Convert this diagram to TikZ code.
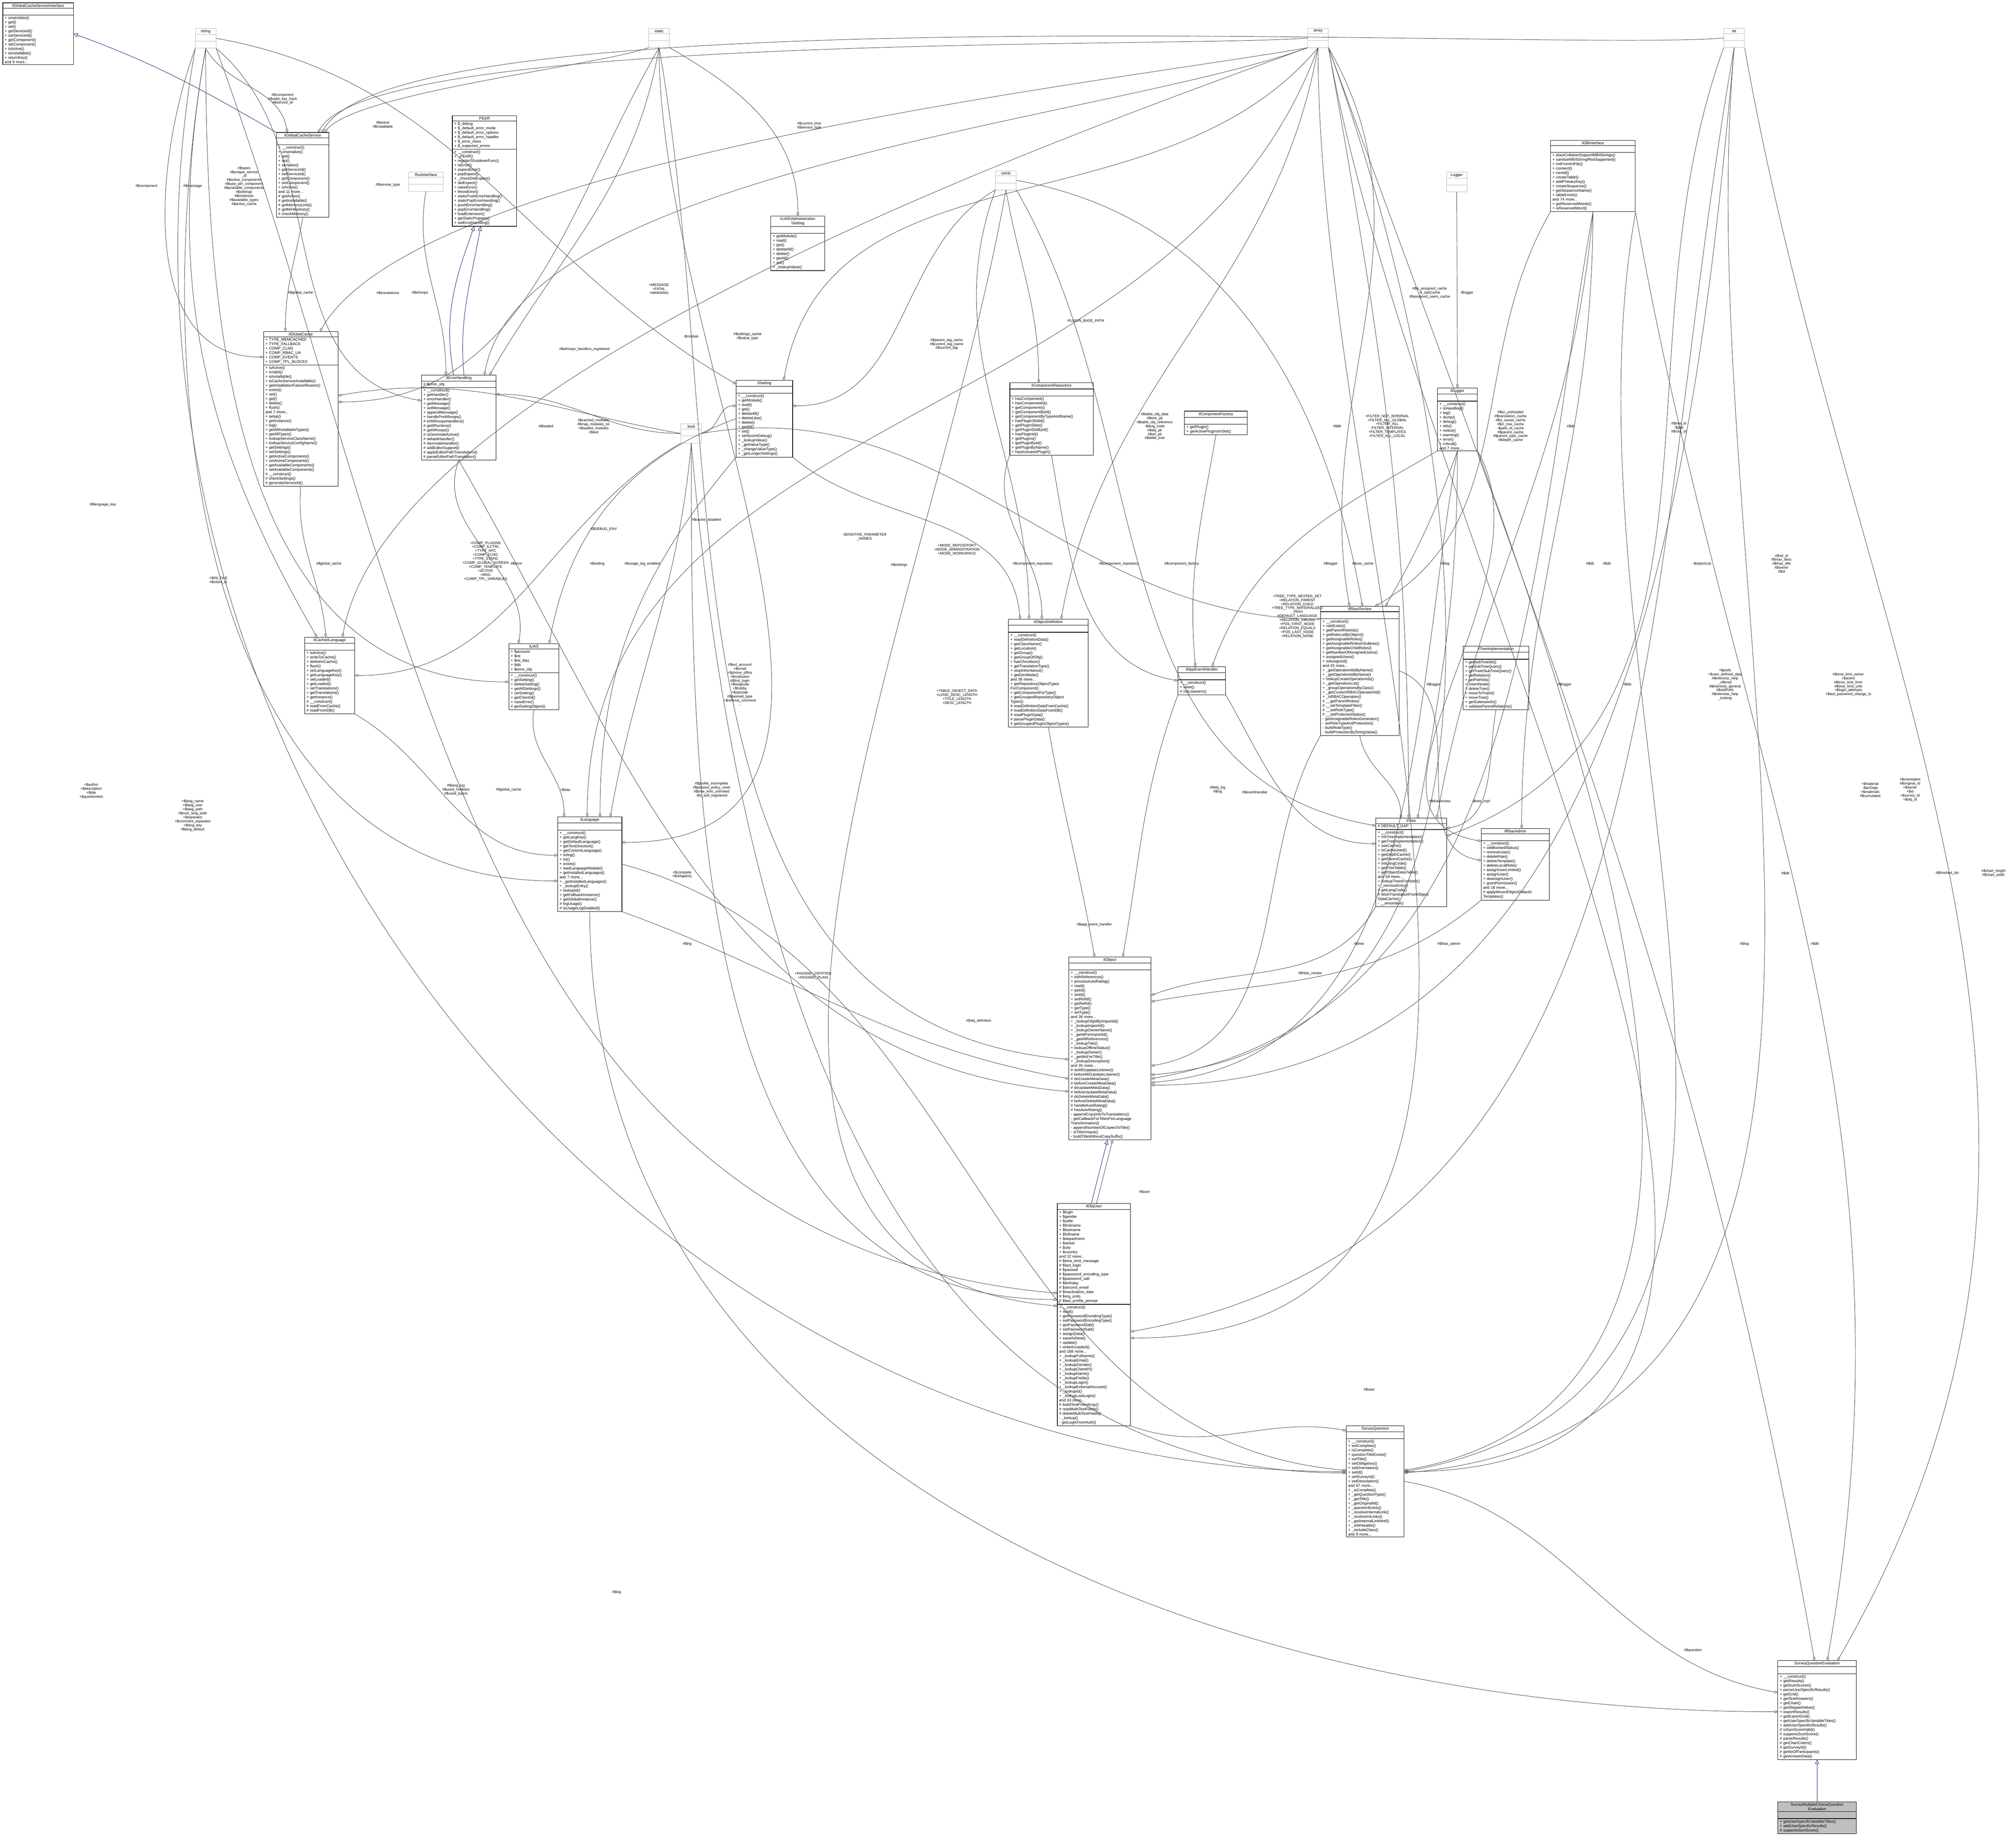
\documentclass[tikz,border=0pt]{standalone}
\usepackage{fontspec}
\setmainfont{Liberation Sans}
\usetikzlibrary{shapes.multipart,arrows.meta}
\newcommand\cf{\fontsize{0.75}{0.8625}\selectfont}
\newcommand\lf{\fontsize{0.7}{0.78}\selectfont}
\newcommand\T[1]{\hfill#1\hfill\null}
\definecolor{edgec}{HTML}{404040}
\definecolor{inhc}{HTML}{191970}
\tikzset{
 cls/.style={draw=black,line width=0.09pt,rectangle split,rectangle split parts=3,anchor=north west,font=\cf,align=left,inner xsep=0.375pt,inner ysep=0.2pt},
 typ/.style={draw=gray!55,line width=0.075pt,rectangle split,rectangle split parts=3,anchor=north west,font=\cf,align=center,inner xsep=0.375pt,inner ysep=0.2pt,text width=3.25pt},
 agg/.style={draw=edgec,line width=0.075pt,-{Diamond[open,length=0.8pt,width=0.5pt,line width=0.075pt]}},
 inh/.style={draw=inhc,line width=0.075pt,-{Triangle[open,length=0.8pt,width=0.8pt,line width=0.075pt]}},
 lbl/.style={font=\lf,align=center,inner sep=0pt}
}
\begin{document}
\begin{tikzpicture}[x=0.25pt,y=-0.25pt]
\useasboundingbox (0,0) rectangle (1568,1439);
% ---------- type boxes
\node[typ] (string) at (152,22) {string\nodepart{second}\strut\nodepart{third}\strut};
\node[typ] (static) at (505,22) {static\nodepart{second}\strut\nodepart{third}\strut};
\node[typ] (array) at (1018,22) {array\nodepart{second}\strut\nodepart{third}\strut};
\node[typ] (int) at (1342,22) {int\nodepart{second}\strut\nodepart{third}\strut};
\node[typ] (const) at (775,133) {const\nodepart{second}\strut\nodepart{third}\strut};
\node[typ] (bool) at (530,330) {bool\nodepart{second}\strut\nodepart{third}\strut};
\node[typ] (Logger) at (1126,134) {Logger\nodepart{second}\strut\nodepart{third}\strut};
\node[typ,text width=6pt] (run) at (318,134) {RunInterface\nodepart{second}\strut\nodepart{third}\strut};
% ---------- classes
\node[cls,text width=13pt] (iface) at (2,2) {\T{ilGlobalCacheServiceInterface}\nodepart{second}\strut\nodepart{third}+ unserialize()\\+ get()\\+ set()\\+ getServiceId()\\+ setServiceId()\\+ getComponent()\\+ setComponent()\\+ isActive()\\+ isInstallable()\\+ returnKey()\\and 9 more...};
\node[cls,text width=9.5pt] (gcs) at (215,103) {\T{ilGlobalCacheService}\nodepart{second}\strut\nodepart{third}+ \_\_construct()\\+ unserialize()\\+ get()\\+ set()\\+ serialize()\\+ getServiceId()\\+ setServiceId()\\+ getComponent()\\+ setComponent()\\+ isActive()\\and 11 more...\\\# getActive()\\\# getInstallable()\\\# getMemoryLimit()\\\# getMinMemory()\\\# checkMemory()};
\node[cls,text width=13.75pt] (gc) at (205,258) {\T{ilGlobalCache}\nodepart{second}+ TYPE\_MEMCACHED\\+ TYPE\_FALLBACK\\+ COMP\_CLNG\\+ COMP\_RBAC\_UA\\+ COMP\_EVENTS\\+ COMP\_TPL\_BLOCKS\nodepart{third}+ isActive()\\+ isValid()\\+ isInstallable()\\+ isCacheServiceInstallable()\\+ getInstallationFailureReason()\\+ exists()\\+ set()\\+ get()\\+ delete()\\+ flush()\\and 7 more...\\+ setup()\\+ getInstance()\\+ log()\\+ getAllInstallableTypes()\\+ getAllTypes()\\+ lookupServiceClassName()\\+ lookupServiceConfigName()\\+ getSettings()\\+ setSettings()\\+ getActiveComponents()\\+ setActiveComponents()\\+ getAvailableComponents()\\+ setAvailableComponents()\\\# \_\_construct()\\\# checkSettings()\\\# generateServiceId()};
\node[cls,text width=9pt] (cl) at (237,496) {\T{ilCachedLanguage}\nodepart{second}\strut\nodepart{third}+ isActive()\\+ writeToCache()\\+ deleteInCache()\\+ flush()\\+ setLanguageKey()\\+ getLanguageKey()\\+ setLoaded()\\+ getLoaded()\\+ setTranslations()\\+ getTranslations()\\+ getInstance()\\\# \_\_construct()\\\# readFromCache()\\\# readFromDB()};
\node[cls,text width=11.75pt] (pear) at (352,90) {\T{PEAR}\nodepart{second}+ \$\_debug\\+ \$\_default\_error\_mode\\+ \$\_default\_error\_options\\+ \$\_default\_error\_handler\\+ \$\_error\_class\\+ \$\_expected\_errors\nodepart{third}+ \_\_construct()\\+ \_PEAR()\\+ registerShutdownFunc()\\+ isError()\\+ expectError()\\+ popExpect()\\+ \_checkDelExpect()\\+ delExpect()\\+ raiseError()\\+ throwError()\\+ staticPushErrorHandling()\\+ staticPopErrorHandling()\\+ pushErrorHandling()\\+ popErrorHandling()\\+ loadExtension()\\+ getStaticProperty()\\+ setErrorHandling()};
\node[cls,text width=13.75pt] (eh) at (328,292) {\T{ilErrorHandling}\nodepart{second}\# \$error\_obj\nodepart{third}+ \_\_construct()\\+ getHandler()\\+ errorHandler()\\+ getMessage()\\+ setMessage()\\+ appendMessage()\\+ handlePreWhoops()\\\# initWhoopsHandlers()\\\# getIlRuntime()\\\# getWhoops()\\\# isDevmodeActive()\\\# defaultHandler()\\\# devmodeHandler()\\\# addEditorSupport()\\\# applyEditorPathTranslations()\\\# parseEditorPathTranslation()};
\node[cls,text width=10.25pt] (setting) at (573,296) {\T{ilSetting}\nodepart{second}\strut\nodepart{third}+ \_\_construct()\\+ getModule()\\+ read()\\+ get()\\+ deleteAll()\\+ deleteLike()\\+ delete()\\+ getAll()\\+ set()\\+ setScormDebug()\\+ \_lookupValue()\\+ \_getValueType()\\+ \_changeValueType()\\+ \_getLongerSettings()};
\node[cls,text width=9.75pt] (adm) at (600,168) {\T{ILIAS\textbackslash Administration}\\\T{\textbackslash Setting}\nodepart{second}\strut\nodepart{third}+ getModule()\\+ read()\\+ get()\\+ deleteAll()\\+ delete()\\+ getAll()\\+ set()\\+ \_lookupValue()};
\node[cls,text width=9pt] (ilias) at (396,501) {\T{ILIAS}\nodepart{second}+ \$account\\+ \$ini\\+ \$ini\_ilias\\+ \$db\\+ \$error\_obj\nodepart{third}+ \_\_construct()\\+ getSetting()\\+ deleteSetting()\\+ getAllSettings()\\+ setSetting()\\+ getClientId()\\+ raiseError()\\\# getSettingObject()};
\node[cls,text width=11.75pt] (lang) at (434,636) {\T{ilLanguage}\nodepart{second}\strut\nodepart{third}+ \_\_construct()\\+ getLangKey()\\+ getDefaultLanguage()\\+ getTextDirection()\\+ getContentLanguage()\\+ txtlng()\\+ txt()\\+ exists()\\+ loadLanguageModule()\\+ getInstalledLanguages()\\and 7 more...\\+ \_getInstalledLanguages()\\+ \_lookupEntry()\\+ lookupId()\\+ getFallbackInstance()\\+ getGlobalInstance()\\\# logUsage()\\\# isUsageLogEnabled()};
\node[cls,text width=15.5pt] (crepo) at (786,298) {\T{ilComponentRepository}\nodepart{second}\strut\nodepart{third}+ hasComponent()\\+ hasComponentId()\\+ getComponents()\\+ getComponentById()\\+ getComponentByTypeAndName()\\+ hasPluginSlotId()\\+ getPluginSlots()\\+ getPluginSlotById()\\+ hasPluginId()\\+ getPlugins()\\+ getPluginById()\\+ getPluginByName()\\+ hasActivatedPlugin()};
\node[cls,text width=11.5pt] (cfac) at (922,320) {\T{ilComponentFactory}\nodepart{second}\strut\nodepart{third}+ getPlugin()\\+ getActivePluginsInSlot()};
\node[cls,text width=14.75pt] (objdef) at (785,482) {\T{ilObjectDefinition}\nodepart{second}\strut\nodepart{third}+ \_\_construct()\\+ readDefinitionData()\\+ getClassName()\\+ getLocation()\\+ getGroup()\\+ getGroupOfObj()\\+ hasCheckbox()\\+ getTranslationType()\\+ stopInheritance()\\+ getDevMode()\\and 38 more...\\+ getRepositoryObjectTypes\\ForComponent()\\+ getComponentForType()\\+ getGroupedRepositoryObject\\Types()\\\# readDefinitionDataFromCache()\\\# readDefinitionDataFromDB()\\\# readPluginData()\\\# parsePluginData()\\\# getGroupedPluginObjectTypes()};
\node[cls,text width=8.5pt] (aeh) at (917,519) {\T{ilAppEventHandler}\nodepart{second}\strut\nodepart{third}+ \_\_construct()\\+ raise()\\\# initListeners()};
\node[cls,text width=15.75pt] (dbi) at (1207,109) {\T{ilDBInterface}\nodepart{second}\strut\nodepart{third}+ doesCollationSupportMB4Strings()\\+ sanitizeMB4StringIfNotSupported()\\+ initFromIniFile()\\+ connect()\\+ nextId()\\+ createTable()\\+ addPrimaryKey()\\+ createSequence()\\+ getSequenceName()\\+ tableExists()\\and 74 more...\\+ getReservedWords()\\+ isReservedWord()};
\node[cls,text width=7pt] (ilog) at (1119,302) {\T{ilLogger}\nodepart{second}\strut\nodepart{third}+ \_\_construct()\\+ isHandling()\\+ log()\\+ dump()\\+ debug()\\+ info()\\+ notice()\\+ warning()\\+ error()\\+ critical()\\and 7 more...};
\node[cls,text width=14.5pt] (rrev) at (1028,472) {\T{ilRbacReview}\nodepart{second}\strut\nodepart{third}+ \_\_construct()\\+ roleExists()\\+ getParentRoleIds()\\+ getRoleListByObject()\\+ getAssignableRoles()\\+ getAssignableRolesInSubtree()\\+ getAssignableChildRoles()\\+ getNumberOfAssignedUsers()\\+ assignedUsers()\\+ isAssigned()\\and 43 more...\\+ \_getOperationIdsByName()\\+ \_getOperationIdByName()\\+ lookupCreateOperationIds()\\+ \_getOperationList()\\+ \_groupOperationsByClass()\\+ \_getCustomRBACOperationId()\\+ \_isRBACOperation()\\\# \_\_getParentRoles()\\\# \_\_setTemplateFilter()\\\# \_\_setRoleType()\\\# \_\_setProtectedStatus()\\- getAssignableRolesGenerator()\\- setRoleTypeAndProtection()\\- buildRoleType()\\- buildProtectionByStringValue()};
\node[cls,text width=12pt] (timpl) at (1139,503) {\T{ilTreeImplementation}\nodepart{second}\strut\nodepart{third}+ getSubTreeIds()\\+ getSubTreeQuery()\\+ getTrashSubTreeQuery()\\+ getRelation()\\+ getPathIds()\\+ insertNode()\\+ deleteTree()\\+ moveToTrash()\\+ moveTree()\\+ getSubtreeInfo()\\+ validateParentRelations()};
\node[cls,text width=13pt] (tree) at (1071,637) {\T{ilTree}\nodepart{second}\# DEFAULT\_GAP\nodepart{third}+ \_\_construct()\\+ initTreeImplementation()\\+ getTreeImplementation()\\+ useCache()\\+ isCacheUsed()\\+ getDepthCache()\\+ getParentCache()\\+ initLangCode()\\+ getTreeTable()\\+ getObjectDataTable()\\and 69 more...\\+ lookupTreesForNode()\\+ \_removeEntry()\\\# getLangCode()\\\# fetchTranslationFromObject\\DataCache()\\- \_\_renumber()};
\node[cls,text width=12.5pt] (radm) at (1153,645) {\T{ilRbacAdmin}\nodepart{second}\strut\nodepart{third}+ \_\_construct()\\+ setBlockedStatus()\\+ removeUser()\\+ deleteRole()\\+ deleteTemplate()\\+ deleteLocalRole()\\+ assignUserLimited()\\+ assignUser()\\+ deassignUser()\\+ grantPermission()\\and 18 more...\\\# applyMovedObjectDidactic\\Templates()};
\node[cls,text width=15.25pt] (obj) at (832,745) {\T{ilObject}\nodepart{second}\strut\nodepart{third}+ \_\_construct()\\+ withReferences()\\+ processAutoRating()\\+ read()\\+ getId()\\+ setId()\\+ setRefId()\\+ getRefId()\\+ getType()\\+ setType()\\and 39 more...\\+ \_lookupObjIdByImportId()\\+ \_lookupImportId()\\+ \_lookupOwnerName()\\+ \_getIdForImportId()\\+ \_getAllReferences()\\+ \_lookupTitle()\\+ lookupOfflineStatus()\\+ \_lookupOwner()\\+ \_getIdsForTitle()\\+ \_lookupDescription()\\and 26 more...\\\# doMDUpdateListener()\\\# beforeMDUpdateListener()\\\# doCreateMetaData()\\\# beforeCreateMetaData()\\\# doUpdateMetaData()\\\# beforeUpdateMetaData()\\\# doDeleteMetaData()\\\# beforeDeleteMetaData()\\\# handleAutoRating()\\\# hasAutoRating()\\- appendCopyInfoToTranslations()\\- getCallbackForTitlesPerLanguage\\Transformation()\\- appendNumberOfCopiesToTitle()\\- isTitleUnique()\\- buildTitleWithoutCopySuffix()};
\node[cls,text width=13.5pt] (user) at (823,937) {\T{ilObjUser}\nodepart{second}+ \$login\\+ \$gender\\+ \$utitle\\+ \$firstname\\+ \$lastname\\+ \$fullname\\+ \$department\\+ \$street\\+ \$city\\+ \$country\\and 12 more...\\\# \$time\_limit\_message\\\# \$last\_login\\\# \$passwd\\\# \$password\_encoding\_type\\\# \$password\_salt\\\# \$birthday\\\# \$second\_email\\\# \$inactivation\_date\\\# \$org\_units\\\# \$last\_profile\_prompt\nodepart{third}+ \_\_construct()\\+ read()\\+ getPasswordEncodingType()\\+ setPasswordEncodingType()\\+ getPasswordSalt()\\+ setPasswordSalt()\\+ assignData()\\+ saveAsNew()\\+ update()\\+ writeAccepted()\\and 168 more...\\+ \_lookupFullname()\\+ \_lookupEmail()\\+ \_lookupGender()\\+ \_lookupClientIP()\\+ \_lookupName()\\+ \_lookupFields()\\+ \_lookupLogin()\\+ \_lookupExternalAccount()\\+ \_lookupId()\\+ \_lookupLastLogin()\\and 63 more...\\\# buildTextFromArray()\\\# readMultiTextFields()\\\# deleteMultiTextFields()\\- \_lookup()\\- getLoginFromAuth()};
\node[cls,text width=10.5pt] (sq) at (1048,1110) {\T{SurveyQuestion}\nodepart{second}\strut\nodepart{third}+ \_\_construct()\\+ setComplete()\\+ isComplete()\\+ questionTitleExists()\\+ setTitle()\\+ setObligatory()\\+ setOrientation()\\+ setId()\\+ setSurveyId()\\+ setDescription()\\and 67 more...\\+ \_isComplete()\\+ \_getQuestionType()\\+ \_getTitle()\\+ \_getOriginalId()\\+ \_questionExists()\\+ \_resolveInternalLink()\\+ \_resolveIntLinks()\\+ \_getInternalLinkHref()\\+ \_isWriteable()\\+ \_includeClass()\\and 8 more...};
\node[cls,text width=14.5pt] (sqe) at (1384,1293) {\T{SurveyQuestionEvaluation}\nodepart{second}\strut\nodepart{third}+ \_\_construct()\\+ getResults()\\+ getSumScores()\\+ parseUserSpecificResults()\\+ getGrid()\\+ getTextAnswers()\\+ getChart()\\+ getSkippedValue()\\+ exportResults()\\+ getExportGrid()\\+ getUserSpecificVariableTitles()\\+ addUserSpecificResults()\\\# isSumScoreValid()\\\# supportsSumScore()\\\# parseResults()\\\# getChartColors()\\\# getSurveyId()\\\# getNrOfParticipants()\\\# getAnswerData()};
\node[cls,text width=14.5pt,fill=gray!50] (smc) at (1384,1403) {\T{SurveyMultipleChoiceQuestion}\\\T{Evaluation}\nodepart{second}\strut\nodepart{third}+ getUserSpecificVariableTitles()\\+ addUserSpecificResults()\\\# supportsSumScore()};
% ---------- inheritance
\draw[inh] (gcs.north west) to[out=150,in=-20] (iface.east);
\draw[inh] ([xshift=-1pt]eh.north) to[out=100,in=-110] ([xshift=-2pt]pear.south);
\draw[inh] ([xshift=1pt]eh.north) to[out=95,in=-100] ([xshift=-0.75pt]pear.south);
\draw[inh] ([xshift=-0.5pt]user.north) -- ([xshift=-0.5pt]obj.south);
\draw[inh] (smc.north) -- (sqe.south);
% ---------- aggregations
\draw[agg] (string.south) to[out=-60,in=100] ([xshift=-3pt]gcs.north);
\draw[agg,looseness=0.3] (array.west) to[out=-175,in=60] ([xshift=3pt]gcs.north);
\draw[agg,looseness=0.3] (int.west) to[out=-175,in=60] ([xshift=3.75pt]gcs.north);
\draw[agg,looseness=0.4] (static.south west) to[out=-160,in=50] ([xshift=4.25pt]gcs.north);
\draw[agg] (gcs.south) to[out=-100,in=90] ([xshift=-3pt]gc.north);
\draw[agg] (string.south west) to[out=-110,in=180] ([yshift=-5pt]gc.north west);
\draw[agg,looseness=0.5] (array.south west) to[out=-170,in=60] ([xshift=3.75pt]gc.north);
\draw[agg] (bool.west) to[out=170,in=10] ([yshift=-12.5pt]gc.north east);
\draw[agg] (static.south) to[out=-120,in=0] ([yshift=-13.75pt]gc.north east);
\draw[agg] (gc.south) to[out=-95,in=95] ([xshift=-0.75pt]cl.north);
\draw[agg] (string.south) to[out=-100,in=120] ([xshift=-2.5pt]cl.north);
\draw[agg,looseness=0.6] (array.south west) to[out=-160,in=80] ([xshift=2.5pt]cl.north);
\draw[agg] (bool.south west) to[out=-150,in=0] ([yshift=-7.5pt]cl.north east);
\draw[agg] (run.south) to[out=-100,in=90] ([xshift=-2.5pt]eh.north);
\draw[agg] (string.south east) to[out=-40,in=170] ([yshift=-5pt]eh.north west);
\draw[agg,looseness=0.6] (array.south west) to[out=-160,in=80] ([xshift=5pt]eh.north);
\draw[agg] (static.south) to[out=-100,in=60] ([xshift=6pt]eh.north);
\draw[agg] (bool.west) to[out=180,in=0] ([yshift=-3.75pt]eh.north east);
\draw[agg] (string.east) to[out=-10,in=150] ([yshift=-0.75pt]setting.north west);
\draw[agg] (array.south) to[out=-130,in=80] ([xshift=3.75pt]setting.north);
\draw[agg] (bool.east) to[out=10,in=180] ([yshift=-5pt]setting.north west);
\draw[agg] (const.south west) to[out=-150,in=0] ([yshift=-5pt]setting.north east);
\draw[agg] (static.south east) to[out=-30,in=90] (adm.north);
\draw[agg] (eh.south) to[out=-110,in=80] ([xshift=-3pt]ilias.north);
\draw[agg] (setting.west) to[out=200,in=80] ([xshift=3pt]ilias.north);
\draw[agg] (string.south) to[out=-90,in=180] ([yshift=-7.5pt]ilias.north west);
\draw[agg] (ilias.south) to[out=-100,in=90] ([xshift=-5pt]lang.north);
\draw[agg] (cl.south east) to[out=-30,in=180] ([yshift=-7.5pt]lang.north west);
\draw[agg] (setting.south west) to[out=-130,in=90] ([xshift=2pt]lang.north);
\draw[agg] (array.south) to[out=-110,in=90] ([xshift=-0.5pt]lang.north);
\draw[agg] (bool.south) to[out=-95,in=80] ([xshift=4pt]lang.north);
\draw[agg] (string.south) to[out=-100,in=180] ([yshift=-12.5pt]lang.north west);
\draw[agg] (static.south) to[out=-90,in=0] ([yshift=-5pt]lang.north east);
\draw[agg] (const.south) to[out=-80,in=90] ([xshift=-2.5pt]crepo.north);
\draw[agg] (crepo.south west) to[out=-110,in=90] ([xshift=-1.25pt]objdef.north);
\draw[agg] (const.south west) to[out=-110,in=90] ([xshift=-3.75pt]objdef.north);
\draw[agg] (array.south) to[out=-100,in=80] ([xshift=2.5pt]objdef.north);
\draw[agg] (setting.south east) to[out=-40,in=95] ([xshift=-5.5pt]objdef.north);
\draw[agg] (crepo.south) to[out=-80,in=170] (aeh.west);
\draw[agg] (cfac.south) to[out=-100,in=95] ([xshift=-1.25pt]aeh.north);
\draw[agg] (ilog.south west) to[out=-150,in=70] ([xshift=2pt]aeh.north);
\draw[agg] (Logger.south) -- (ilog.north);
\draw[agg] (dbi.south west) to[out=-120,in=30] ([xshift=3pt]rrev.north);
\draw[agg] (ilog.south) to[out=-110,in=60] ([xshift=5pt]rrev.north);
\draw[agg] (const.east) to[out=-10,in=100] ([xshift=0.5pt]rrev.north);
\draw[agg] (array.south east) to[out=-60,in=100] ([xshift=-2pt]rrev.north);
\draw[agg] (bool.east) to[out=10,in=180] ([yshift=-2.5pt]rrev.north west);
\draw[agg] (dbi.south) to[out=-95,in=80] ([xshift=5pt]tree.north);
\draw[agg] (ilog.south) to[out=-90,in=80] ([xshift=1.25pt]tree.north);
\draw[agg] (timpl.south) to[out=-100,in=10] ([yshift=-2pt]tree.north east);
\draw[agg] (rrev.south) to[out=-80,in=90] ([xshift=-2pt]tree.north);
\draw[agg] (const.south east) to[out=-60,in=170] ([yshift=-1.5pt]tree.north west);
\draw[agg] (array.south east) to[out=-80,in=90] ([xshift=-0.5pt]tree.north);
\draw[agg] (aeh.south east) to[out=-60,in=180] ([yshift=-5pt]tree.north west);
\draw[agg] (int.south west) to[out=-110,in=20] ([yshift=-3.5pt]tree.north east);
\draw[agg] (dbi.south) to[out=-90,in=90] ([xshift=1.25pt]radm.north);
\draw[agg] (ilog.south east) to[out=-60,in=170] ([yshift=-2.5pt]radm.north west);
\draw[agg] (rrev.east) to[out=-20,in=170] ([yshift=-6.25pt]radm.north west);
\draw[agg] (tree.south west) to[out=-120,in=20] ([yshift=-7.5pt]obj.north east);
\draw[agg] (radm.south west) to[out=-140,in=10] ([yshift=-8.75pt]obj.north east);
\draw[agg] (rrev.south west) to[out=-120,in=10] ([yshift=-21.25pt]obj.north east);
\draw[agg] (objdef.south) to[out=-80,in=100] ([xshift=-3pt]obj.north);
\draw[agg] (aeh.south west) to[out=-110,in=80] ([xshift=2.5pt]obj.north);
\draw[agg] (lang.south east) to[out=-20,in=170] ([yshift=-23.75pt]obj.north west);
\draw[agg] (dbi.south) to[out=-100,in=10] ([yshift=-23.75pt]obj.north east);
\draw[agg] (ilog.south) to[out=-100,in=5] ([yshift=-24.5pt]obj.north east);
\draw[agg] (eh.south) to[out=-60,in=175] ([yshift=-26.25pt]obj.north west);
\draw[agg] (int.south) to[out=-95,in=0] ([yshift=-25pt]obj.north east);
\draw[agg] (array.south east) to[out=-70,in=5] ([yshift=-23pt]obj.north east);
\draw[agg] (static.south) to[out=-80,in=175] ([yshift=-20pt]obj.north west);
\draw[agg] ([xshift=0.5pt]user.north) -- ([xshift=0.5pt]obj.south);
\draw[agg] (string.south east) to[out=-70,in=175] ([yshift=-17.5pt]user.north west);
\draw[agg] (bool.south) to[out=-90,in=180] ([yshift=-18.75pt]user.north west);
\draw[agg] (array.south) to[out=-90,in=0] ([yshift=-26.25pt]user.north east);
\draw[agg] (int.south) to[out=-100,in=10] ([yshift=-25pt]user.north east);
\draw[agg] (const.south) to[out=-100,in=175] ([yshift=-20pt]user.north west);
\draw[agg] (user.south east) to[out=-20,in=170] ([yshift=-1pt]sq.north west);
\draw[agg] (lang.east) to[out=-15,in=175] ([yshift=-8.75pt]sq.north west);
\draw[agg] (string.south west) to[out=-100,in=180] ([yshift=-9pt]sq.north west);
\draw[agg] (bool.south) to[out=-85,in=180] ([yshift=-9.25pt]sq.north west);
\draw[agg] (array.south east) to[out=-80,in=0] ([yshift=-9pt]sq.north east);
\draw[agg] (int.south) to[out=-95,in=5] ([yshift=-9.25pt]sq.north east);
\draw[agg] (dbi.south east) to[out=-100,in=10] ([yshift=-9pt]sq.north east);
\draw[agg] (ilog.south east) to[out=-70,in=10] ([yshift=-8.75pt]sq.north east);
\draw[agg] (sq.east) to[out=-10,in=170] ([yshift=-6.25pt]sqe.north west);
\draw[agg] (lang.south) to[out=-90,in=180] ([yshift=-10pt]sqe.north west);
\draw[agg] (array.south east) to[out=-70,in=100] ([xshift=-0.5pt]sqe.north);
\draw[agg] (int.south east) to[out=-80,in=60] ([xshift=4pt]sqe.north);
\draw[agg] (dbi.south east) to[out=-80,in=80] ([xshift=2pt]sqe.north);
% ---------- labels
\node[lbl] at (220,77) {\#\$component\\\#\$valid\_key\_hash\\\#\$service\_id};
\node[lbl] at (298,97) {\#\$active\\\#\$installable};
\node[lbl] at (630,98) {\#\$current\_time\\\#\$service\_type};
\node[lbl] at (190,145) {\#\$types\\\#\$unique\_service\\\_id\\\#\$active\_components\\\#\$type\_per\_component\\\#\$available\_components\\\#\$settings\\\#\$instances\\\#\$available\_types\\\#\$active\_cache};
\node[lbl] at (114,145) {\#\$component};
\node[lbl] at (150,145) {\#\$message};
\node[lbl] at (302,144) {\#\$service\_type};
\node[lbl] at (234,228) {\#\$global\_cache};
\node[lbl] at (256,439) {\#\$global\_cache};
\node[lbl] at (302,228) {\#\$translations};
\node[lbl] at (327,228) {\#\$whoops};
\node[lbl] at (455,272) {\#\$whoops\_handlers\_registered};
\node[lbl] at (513,225) {+MESSAGE\\+FATAL\\+WARNING};
\node[lbl] at (538,262) {-\$module};
\node[lbl] at (582,262) {\#\$settings\_cache\\\#\$value\_type};
\node[lbl] at (737,268) {\#\$parent\_tag\_name\\\#\$current\_tag\_name\\\#\$current\_tag};
\node[lbl] at (845,250) {-PLUGIN\_BASE\_PATH};
\node[lbl] at (899,332) {\#\$table\_obj\_data\\\#\$tree\_pk\\\#\$table\_obj\_reference\\-\$lang\_code\\\#\$obj\_pk\\\#\$ref\_pk\\\#\$table\_tree};
\node[lbl] at (1113,228) {\#\$is\_assigned\_cache\\-\$\_opsCache\\\#\$assigned\_users\_cache};
\node[lbl] at (1142,228) {-\$logger};
\node[lbl] at (1176,332) {\#\$oc\_preloaded\\\#\$translation\_cache\\\#\$is\_saved\_cache\\\#\$in\_tree\_cache\\-\$path\_id\_cache\\\#\$parent\_cache\\\#\$parent\_type\_cache\\\#\$depth\_cache};
\node[lbl] at (1041,332) {\#\$db};
\node[lbl] at (1223,332) {\#\$db};
\node[lbl] at (1080,332) {+FILTER\_NOT\_INTERNAL\\+FILTER\_ALL\_GLOBAL\\+FILTER\_ALL\\-FILTER\_INTERNAL\\+FILTER\_TEMPLATES\\+FILTER\_ALL\_LOCAL};
\node[lbl] at (1307,333) {\#\$tree\_id\\-\$gap\\\#\$root\_id};
\node[lbl] at (80,393) {\#\$language\_key};
\node[lbl] at (170,452) {+\$INI\_FILE\\\#\$client\_id};
\node[lbl] at (378,437) {+COMP\_PLUGINS\\+COMP\_ILCTRL\\+TYPE\_APC\\+COMP\_CLNG\\+TYPE\_STATIC\\+COMP\_GLOBAL\_SCREEN\\+COMP\_TEMPLATE\\+ACTIVE\\+MSG\\+COMP\_TPL\_VARIABLES};
\node[lbl] at (470,412) {\#\$DEBUG\_ENV};
\node[lbl] at (550,405) {\#\$cache\_disabled};
\node[lbl] at (673,418) {-SENSITIVE\_PARAMETER\\\_NAMES};
\node[lbl] at (745,428) {+MODE\_REPOSITORY\\+MODE\_ADMINISTRATION\\+MODE\_WORKSPACE};
\node[lbl] at (745,543) {+TABLE\_OBJECT\_DATA\\+LONG\_DESC\_LENGTH\\+TITLE\_LENGTH\\+DESC\_LENGTH};
\node[lbl] at (1010,480) {+TREE\_TYPE\_NESTED\_SET\\+RELATION\_PARENT\\+RELATION\_CHILD\\+TREE\_TYPE\_MATERIALIZED\\\_PATH\\\#DEFAULT\_LANGUAGE\\+RELATION\_SIBLING\\+POS\_FIRST\_NODE\\+RELATION\_EQUALS\\+POS\_LAST\_NODE\\+RELATION\_NONE};
\node[lbl] at (425,332) {\#\$loaded};
\node[lbl] at (462,332) {\#\$cached\_modules\\\#\$map\_modules\_txt\\+\$loaded\_modules\\+\$text};
\node[lbl] at (402,439) {\#\$error};
\node[lbl] at (465,439) {\#\$setting};
\node[lbl] at (500,439) {\#\$usage\_log\_enabled};
\node[lbl] at (700,440) {\#\$settings};
\node[lbl] at (804,439) {\#\$component\_repository};
\node[lbl] at (871,439) {\#\$component\_repository};
\node[lbl] at (920,439) {\#\$component\_factory};
\node[lbl] at (1036,439) {\#\$logger};
\node[lbl] at (1061,439) {\#\$use\_cache};
\node[lbl] at (1125,439) {\#\$log};
\node[lbl] at (1238,439) {\#\$db};
\node[lbl] at (1251,439) {\#\$db};
\node[lbl] at (1325,439) {-\$objectList};
\node[lbl] at (1387,439) {\#\$ref\_id\\\#\$max\_desc\\\#\$max\_title\\\#\$owner\\\#\$id};
\node[lbl] at (150,635) {+\$lang\_name\\+\$lang\_user\\+\$lang\_path\\\#\$cust\_lang\_path\\+\$separator\\+\$comment\_separator\\+\$lang\_key\\\#\$lang\_default};
\node[lbl] at (355,615) {\#\$lang\_log\\\#\$used\_modules\\\#\$used\_topics};
\node[lbl] at (440,615) {+\$ilias};
\node[lbl] at (396,615) {\#\$global\_cache};
\node[lbl] at (576,533) {\#\$ext\_account\\+\$email\\+\$phone\_office\\+\$institution\\\#\$first\_login\\+\$longitude\\+\$hobby\\+\$zipcode\\\#\$passwd\_type\\+\$referral\_comment\\...};
\node[lbl] at (554,615) {\#\$profile\_incomplete\\\#\$passwd\_policy\_reset\\\#\$time\_limit\_unlimited\\-\$is\_self\_registered};
\node[lbl] at (531,681) {+\$complete\\+\$obligatory};
\node[lbl] at (535,735) {\#\$lng};
\node[lbl] at (633,760) {+PASSWD\_CRYPTED\\+PASSWD\_PLAIN};
\node[lbl] at (948,615) {\#\$obj\_log\\\#\$log};
\node[lbl] at (977,617) {\#\$eventHandler};
\node[lbl] at (1116,533) {\#\$logger};
\node[lbl] at (1218,533) {\#\$logger};
\node[lbl] at (1267,533) {\#\$db};
\node[lbl] at (1343,533) {+\$prefs\\+\$user\_defined\_data\\\#\$interests\_help\\\_offered\\\#\$interests\_general\\\#\$oldPrefs\\\#\$interests\_help\\\_looking};
\node[lbl] at (1439,533) {\#\$time\_limit\_owner\\+\$active\\\#\$time\_limit\_from\\\#\$time\_limit\_until\\+\$login\_attempts\\+\$last\_password\_change\_ts};
\node[lbl] at (1121,624) {\#\$rbacreview};
\node[lbl] at (1153,624) {-\$tree\_impl};
\node[lbl] at (1456,615) {+\$material\\-\$arrData\\+\$materials\\\#\$cumulated};
\node[lbl] at (1487,615) {+\$orientation\\\#\$original\_id\\+\$owner\\+\$id\\+\$survey\_id\\+\$obj\_id};
\node[lbl] at (1390,680) {\#\$db};
\node[lbl] at (1516,680) {\#\$finished\_ids};
\node[lbl] at (1552,680) {\#\$chart\_height\\\#\$chart\_width};
\node[lbl] at (1058,735) {\#\$tree};
\node[lbl] at (1128,735) {\#\$rbac\_admin};
\node[lbl] at (1358,735) {\#\$log};
\node[lbl] at (1413,735) {\#\$db};
\node[lbl] at (71,616) {+\$author\\+\$description\\+\$title\\+\$questiontext};
\node[lbl] at (762,795) {\#\$obj\_definition};
\node[lbl] at (852,720) {\#\$app\_event\_handler};
\node[lbl] at (1020,758) {\#\$rbac\_review};
\node[lbl,anchor=west] at (886,928) {\#\$user};
\node[lbl] at (1066,1082) {\#\$user};
\node[lbl] at (480,1240) {\#\$lng};
\node[lbl] at (1318,1285) {\#\$question};
\end{tikzpicture}
\end{document}
